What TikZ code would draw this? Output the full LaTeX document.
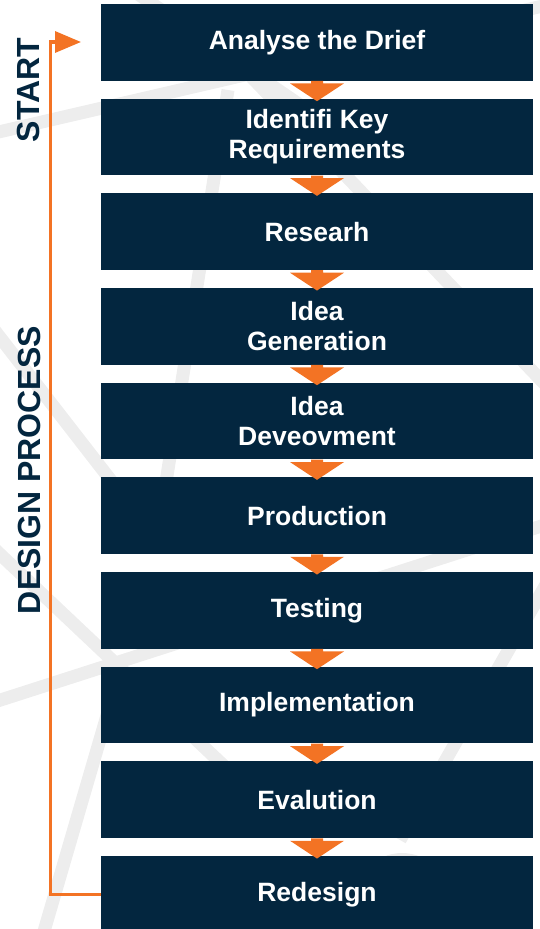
\documentclass[tikz,border=0pt]{standalone}
\usepackage{fontspec}
\setmainfont{Liberation Sans}
\usetikzlibrary{calc,arrows.meta}
\definecolor{navy}{HTML}{03263F}
\definecolor{accent}{HTML}{F37324}
\definecolor{bgline}{HTML}{EDEDED}
\tikzset{
  stepbox/.style={fill=navy, draw=none, minimum width=432pt, minimum height=76.7pt,
    inner sep=0pt, text=white, font=\bfseries\fontsize{26.5}{30}\selectfont, align=center},
  sidelabel/.style={text=navy, font=\bfseries\fontsize{32}{36}\selectfont, rotate=90, inner sep=0pt},
  bgstroke/.style={bgline, line width=13pt},
  loopline/.style={accent, line width=3.3pt, -{Triangle[length=26pt,width=21pt]}},
}
\begin{document}
\begin{tikzpicture}[x=1pt,y=-1pt]
\useasboundingbox (0,0) rectangle (540,929);
\begin{scope}
\clip (0,0) rectangle (540,929);
% faint background strokes
\draw[bgstroke] (-10,134) -- (560,2);
\draw[bgstroke] (135,-8) -- (300,105);
\draw[bgstroke] (-15,318) -- (130,505);
\draw[bgstroke] (-15,540) -- (260,800);
\draw[bgstroke] (-15,705) -- (560,520);
\draw[bgstroke] (108,712) -- (40,945);
\draw[bgstroke] (228,90) -- (160,520);
\draw[bgstroke] (240,65) -- (560,400);
\draw[bgstroke] (400,840) -- (560,560);
\fill[bgline] (402,900) circle (47);
% boxes
\node[stepbox] (b1)  at (317, 42.35) {Analyse the Drief};
\node[stepbox] (b2)  at (317,137.02) {Identifi Key\\Requirements};
\node[stepbox] (b3)  at (317,231.69) {Researh};
\node[stepbox] (b4)  at (317,326.36) {Idea\\Generation};
\node[stepbox] (b5)  at (317,421.03) {Idea\\Deveovment};
\node[stepbox] (b6)  at (317,515.70) {Production};
\node[stepbox] (b7)  at (317,610.37) {Testing};
\node[stepbox] (b8)  at (317,705.04) {Implementation};
\node[stepbox] (b9)  at (317,799.71) {Evalution};
\node[stepbox] (b10) at (317,894.38) {Redesign};
% down arrows between boxes
\foreach \a/\b in {b1/b2,b2/b3,b3/b4,b4/b5,b5/b6,b6/b7,b7/b8,b8/b9,b9/b10}{
  \fill[accent] ($(\a.south)+(-6,0)$) -- ($(\a.south)+(6,0)$) -- ($(\a.south)+(6,2.5)$)
    -- ($(\a.south)+(27,2.5)$) -- ($(\b.north)+(0,2.7)$) -- ($(\a.south)+(-27,2.5)$)
    -- ($(\a.south)+(-6,2.5)$) -- cycle;
}
% loop back line
\coordinate (ltop) at (50.5,42);
\coordinate (tip) at (81,42);
\draw[loopline] (b10.west) -| (ltop) -- (tip);
% side labels
\node[sidelabel] (start) at (28.5,90) {START};
\node[sidelabel] (dp) at (29,470) {DESIGN PROCESS};
\end{scope}
\end{tikzpicture}
\end{document}
